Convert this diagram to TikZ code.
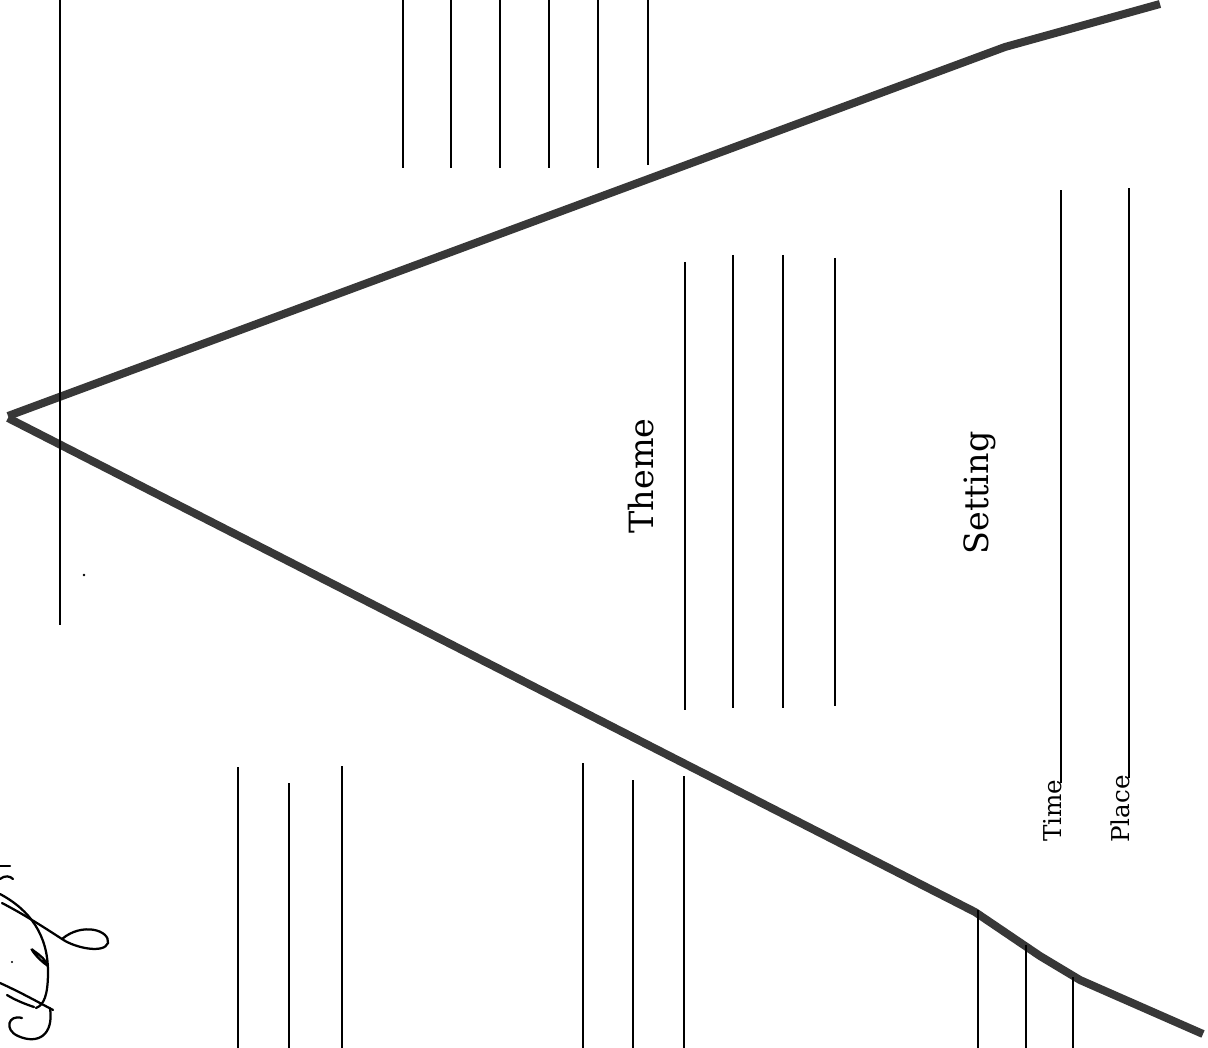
\documentclass[tikz,border=0pt]{standalone}
\usepackage{fontspec}
\setmainfont{DejaVu Serif}

\begin{document}
\begin{tikzpicture}[
  x=0.2mm, y=-0.2mm,
  rule/.style={draw=black, line width=0.4mm},
  slope/.style={draw=black!78, line width=1.6mm, line join=miter, line cap=butt},
  heading/.style={rotate=90, font=\fontsize{19}{22}\selectfont, inner sep=0pt},
  field/.style={rotate=90, font=\fontsize{14}{16}\selectfont, inner sep=0pt, anchor=base west},
  pen/.style={draw=black, line width=0.45mm, line cap=round}
]
  \useasboundingbox (0,0) rectangle (1208,1048);

  % the two sides of the plot line
  \draw[slope] (1160,4) -- (1005,47) -- (8,416);
  \draw[slope] (8,418) -- (975,912) -- (1040,956) -- (1080,980) -- (1203,1034);

  % long rule through the apex
  \draw[rule] (60,0) -- (60,625);

  % rules above the rising side
  \draw[rule] (403,0) -- (403,168);
  \draw[rule] (451,0) -- (451,168);
  \draw[rule] (500,0) -- (500,168);
  \draw[rule] (549,0) -- (549,168);
  \draw[rule] (598,0) -- (598,168);
  \draw[rule] (648,0) -- (648,165);

  % theme
  \node[heading] (theme) at (641,476) {Theme};
  \draw[rule] (685,262) -- (685,710);
  \draw[rule] (733,255) -- (733,708);
  \draw[rule] (783,255) -- (783,708);
  \draw[rule] (835,258) -- (835,706);

  % setting
  \node[heading] (setting) at (980,493) {Setting};
  \node[field] (time) at (1061,842) {Time};
  \node[field] (place) at (1129,843) {Place};
  \draw[rule] ([yshift=-2]time.base east) -- (1061,190);
  \draw[rule] ([yshift=-2]place.base east) -- (1129,188);

  % rules below the falling side
  \draw[rule] (238,767) -- (238,1048);
  \draw[rule] (289,783) -- (289,1048);
  \draw[rule] (342,766) -- (342,1048);
  \draw[rule] (583,763) -- (583,1048);
  \draw[rule] (633,780) -- (633,1048);
  \draw[rule] (684,776) -- (684,1048);
  \draw[rule] (978,910) -- (978,1048);
  \draw[rule] (1026,945) -- (1026,1048);
  \draw[rule] (1073,977) -- (1073,1048);

  % handwriting at the edge
  \draw[pen] (0,866) -- (10,866);
  \draw[pen] (0,879) .. controls (5,875) and (10,876) .. (13,879);
  \draw[pen] (2,903) .. controls (25,915) and (45,928) .. (62,939)
    .. controls (75,948) and (104,954) .. (108,943)
    .. controls (110,930) and (82,922) .. (62,939);
  \draw[pen] (0,894) .. controls (30,910) and (48,935) .. (48,972)
    .. controls (48,995) and (44,1005) .. (36,1008);
  \draw[pen] (48,966) .. controls (36,958) and (28,945) .. (34,951)
    .. controls (40,955) and (46,960) .. (48,966);
  \draw[pen] (0,983) .. controls (20,992) and (38,1002) .. (53,1010);
  \draw[pen] (7,995) .. controls (15,1000) and (25,1004) .. (34,1007);
  \draw[pen] (22,1018) .. controls (8,1014) and (4,1030) .. (18,1036)
    .. controls (38,1045) and (54,1035) .. (50,1008);
  \fill (12,962) circle (1.2);
  \fill (84,575) circle (1.3);
\end{tikzpicture}
\end{document}
